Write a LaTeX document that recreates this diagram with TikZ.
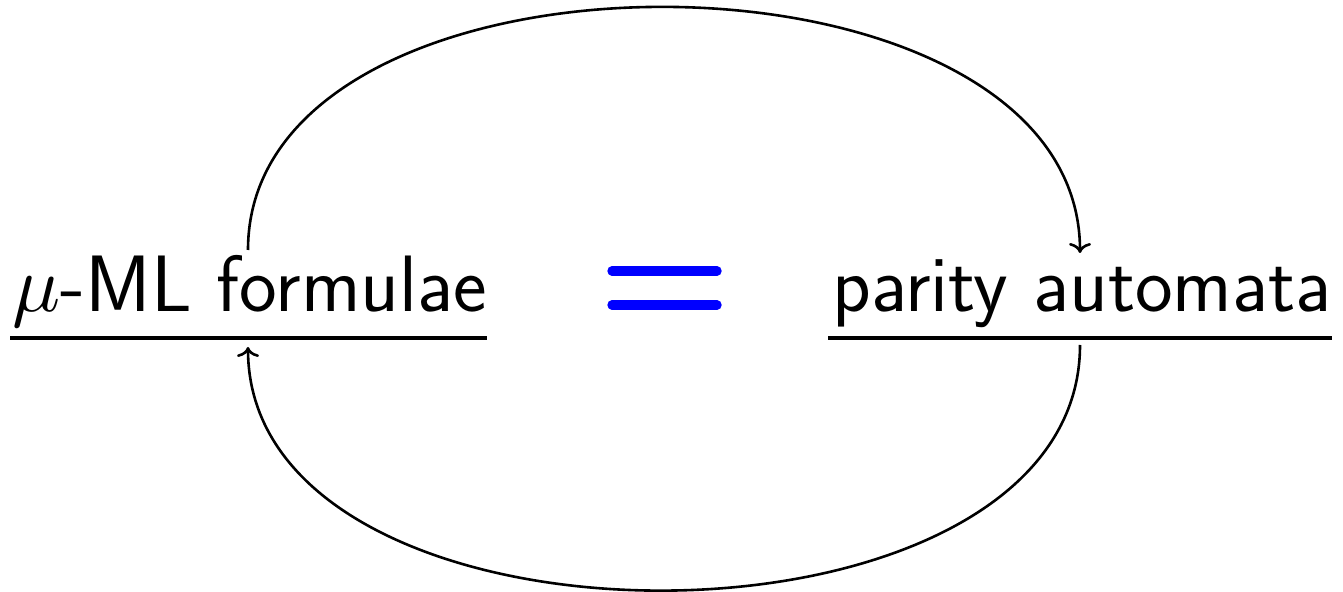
\documentclass[tikz,border=0pt]{standalone}
\DeclareFontShape{OML}{cmm}{m}{it}{<->cmmi10}{}
\usetikzlibrary{arrows.meta}
\begin{document}
\begin{tikzpicture}[x=0.5pt,y=-0.5pt,
  lbl/.style={inner sep=0pt,anchor=base west,font=\sffamily\fontsize{40}{48}\selectfont},
  uline/.style={line width=1.65pt},
  conn/.style={line width=1.3pt,-{Computer Modern Rightarrow[width=11pt,length=5pt]}},
  eqbar/.style={line width=4.7pt,blue,line cap=round}]
\useasboundingbox (0,0) rectangle (1343,592);
\node[lbl] (mu) at (12,312) {$\mu$-ML formulae};
\node[lbl] (pa) at (832,312) {parity automata};
\coordinate (mul1) at (10,338);
\coordinate (mul2) at (487,338);
\coordinate (pal1) at (828,338);
\coordinate (pal2) at (1332,338);
\draw[uline] (mul1) -- (mul2);
\draw[uline] (pal1) -- (pal2);
\coordinate (e1a) at (612,271);
\coordinate (e1b) at (717,271);
\coordinate (e2a) at (612,305);
\coordinate (e2b) at (717,305);
\draw[eqbar] (e1a) -- (e1b);
\draw[eqbar] (e2a) -- (e2b);
\coordinate (ltop) at (248,250);
\coordinate (rtop) at (1080,253);
\coordinate (rbot) at (1080,345);
\coordinate (lbot) at (248,347);
\draw[conn] (ltop) to[out=90,in=90] (rtop);
\draw[conn] (rbot) to[out=-90,in=-90] (lbot);
\end{tikzpicture}
\end{document}
